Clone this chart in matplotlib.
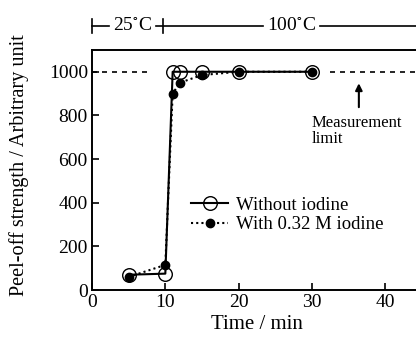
import matplotlib.pyplot as plt
import matplotlib.transforms as mtransforms

plt.rcParams['font.family'] = ['Liberation Serif', 'DejaVu Serif']
plt.rcParams['mathtext.fontset'] = 'stix'

# data
time_without = [5, 10, 11, 12, 15, 20, 30]
peel_without = [70, 75, 1000, 1000, 1000, 1000, 1000]
time_with = [5, 10, 11, 12, 15, 20, 30]
peel_with = [60, 115, 900, 950, 985, 1000, 1000]

limit_value = 1000
limit_left = [0, 8.2]
limit_right = [32.4, 45]

fig = plt.figure(figsize=(4.16, 3.42), dpi=100)
ax = fig.add_axes([0.2212, 0.152, 0.793, 0.702])

# measurement limit line
ax.plot(limit_left, [limit_value] * 2, color='black', lw=1.2, ls=(0, (3, 3)))
ax.plot(limit_right, [limit_value] * 2, color='black', lw=1.2, ls=(0, (3, 3)),
        clip_on=False)

# series
ax.plot(time_without, peel_without, color='black', lw=1.5, marker='o',
        ms=9.8, mfc='none', mec='black', mew=1.0, label='Without iodine')
ax.plot(time_with, peel_with, color='black', lw=1.5, ls=(0, (1, 1.5)),
        marker='o', ms=6, mfc='black', mec='black',
        label='With 0.32 M iodine')

ax.set_xlim(0, 45)
ax.set_ylim(0, 1100)
ax.set_xticks([0, 10, 20, 30, 40])
ax.set_yticks([0, 200, 400, 600, 800, 1000])
ax.tick_params(direction='in', length=5, width=1.2, labelsize=14, pad=3)
for s in ['left', 'bottom', 'top']:
    ax.spines[s].set_linewidth(1.4)
ax.spines['right'].set_visible(False)

ax.set_xlabel('Time / min', fontsize=15, labelpad=3)
ax.set_ylabel('Peel-off strength / Arbitrary unit', fontsize=14.6)
ax.yaxis.set_label_coords(-0.19, 0.52)

# annotation
ax.annotate('', xy=(36.4, 960), xytext=(36.4, 825),
            arrowprops=dict(arrowstyle='-|>', color='black', lw=1.5,
                            mutation_scale=10))
ax.text(30.0, 800, 'Measurement\nlimit', fontsize=12, va='top', ha='left',
        linespacing=0.95)

# temperature bar above the axes
trans = mtransforms.blended_transform_factory(ax.transData, ax.transAxes)
bar_y = 1.1
kw = dict(color='black', lw=1.2, transform=trans, clip_on=False)
ax.plot([0, 0], [bar_y - 0.03, bar_y + 0.03], **kw)
ax.plot([9.7, 9.7], [bar_y - 0.03, bar_y + 0.03], **kw)
ax.plot([0, 2.3], [bar_y, bar_y], **kw)
ax.plot([8.7, 23.3], [bar_y, bar_y], **kw)
ax.plot([31.1, 45], [bar_y, bar_y], **kw)
ax.text(5.5, bar_y, '25$^{\\circ}$C', fontsize=14, ha='center',
        va='center', transform=trans)
ax.text(27.2, bar_y, '100$^{\\circ}$C', fontsize=14, ha='center',
        va='center', transform=trans)

ax.legend(loc='upper left', bbox_to_anchor=(0.3, 0.39), frameon=False,
          fontsize=13.5, handlelength=2.0, handletextpad=0.4, borderpad=0,
          borderaxespad=0, labelspacing=0.15)

fig.savefig('out.png', dpi=100)
